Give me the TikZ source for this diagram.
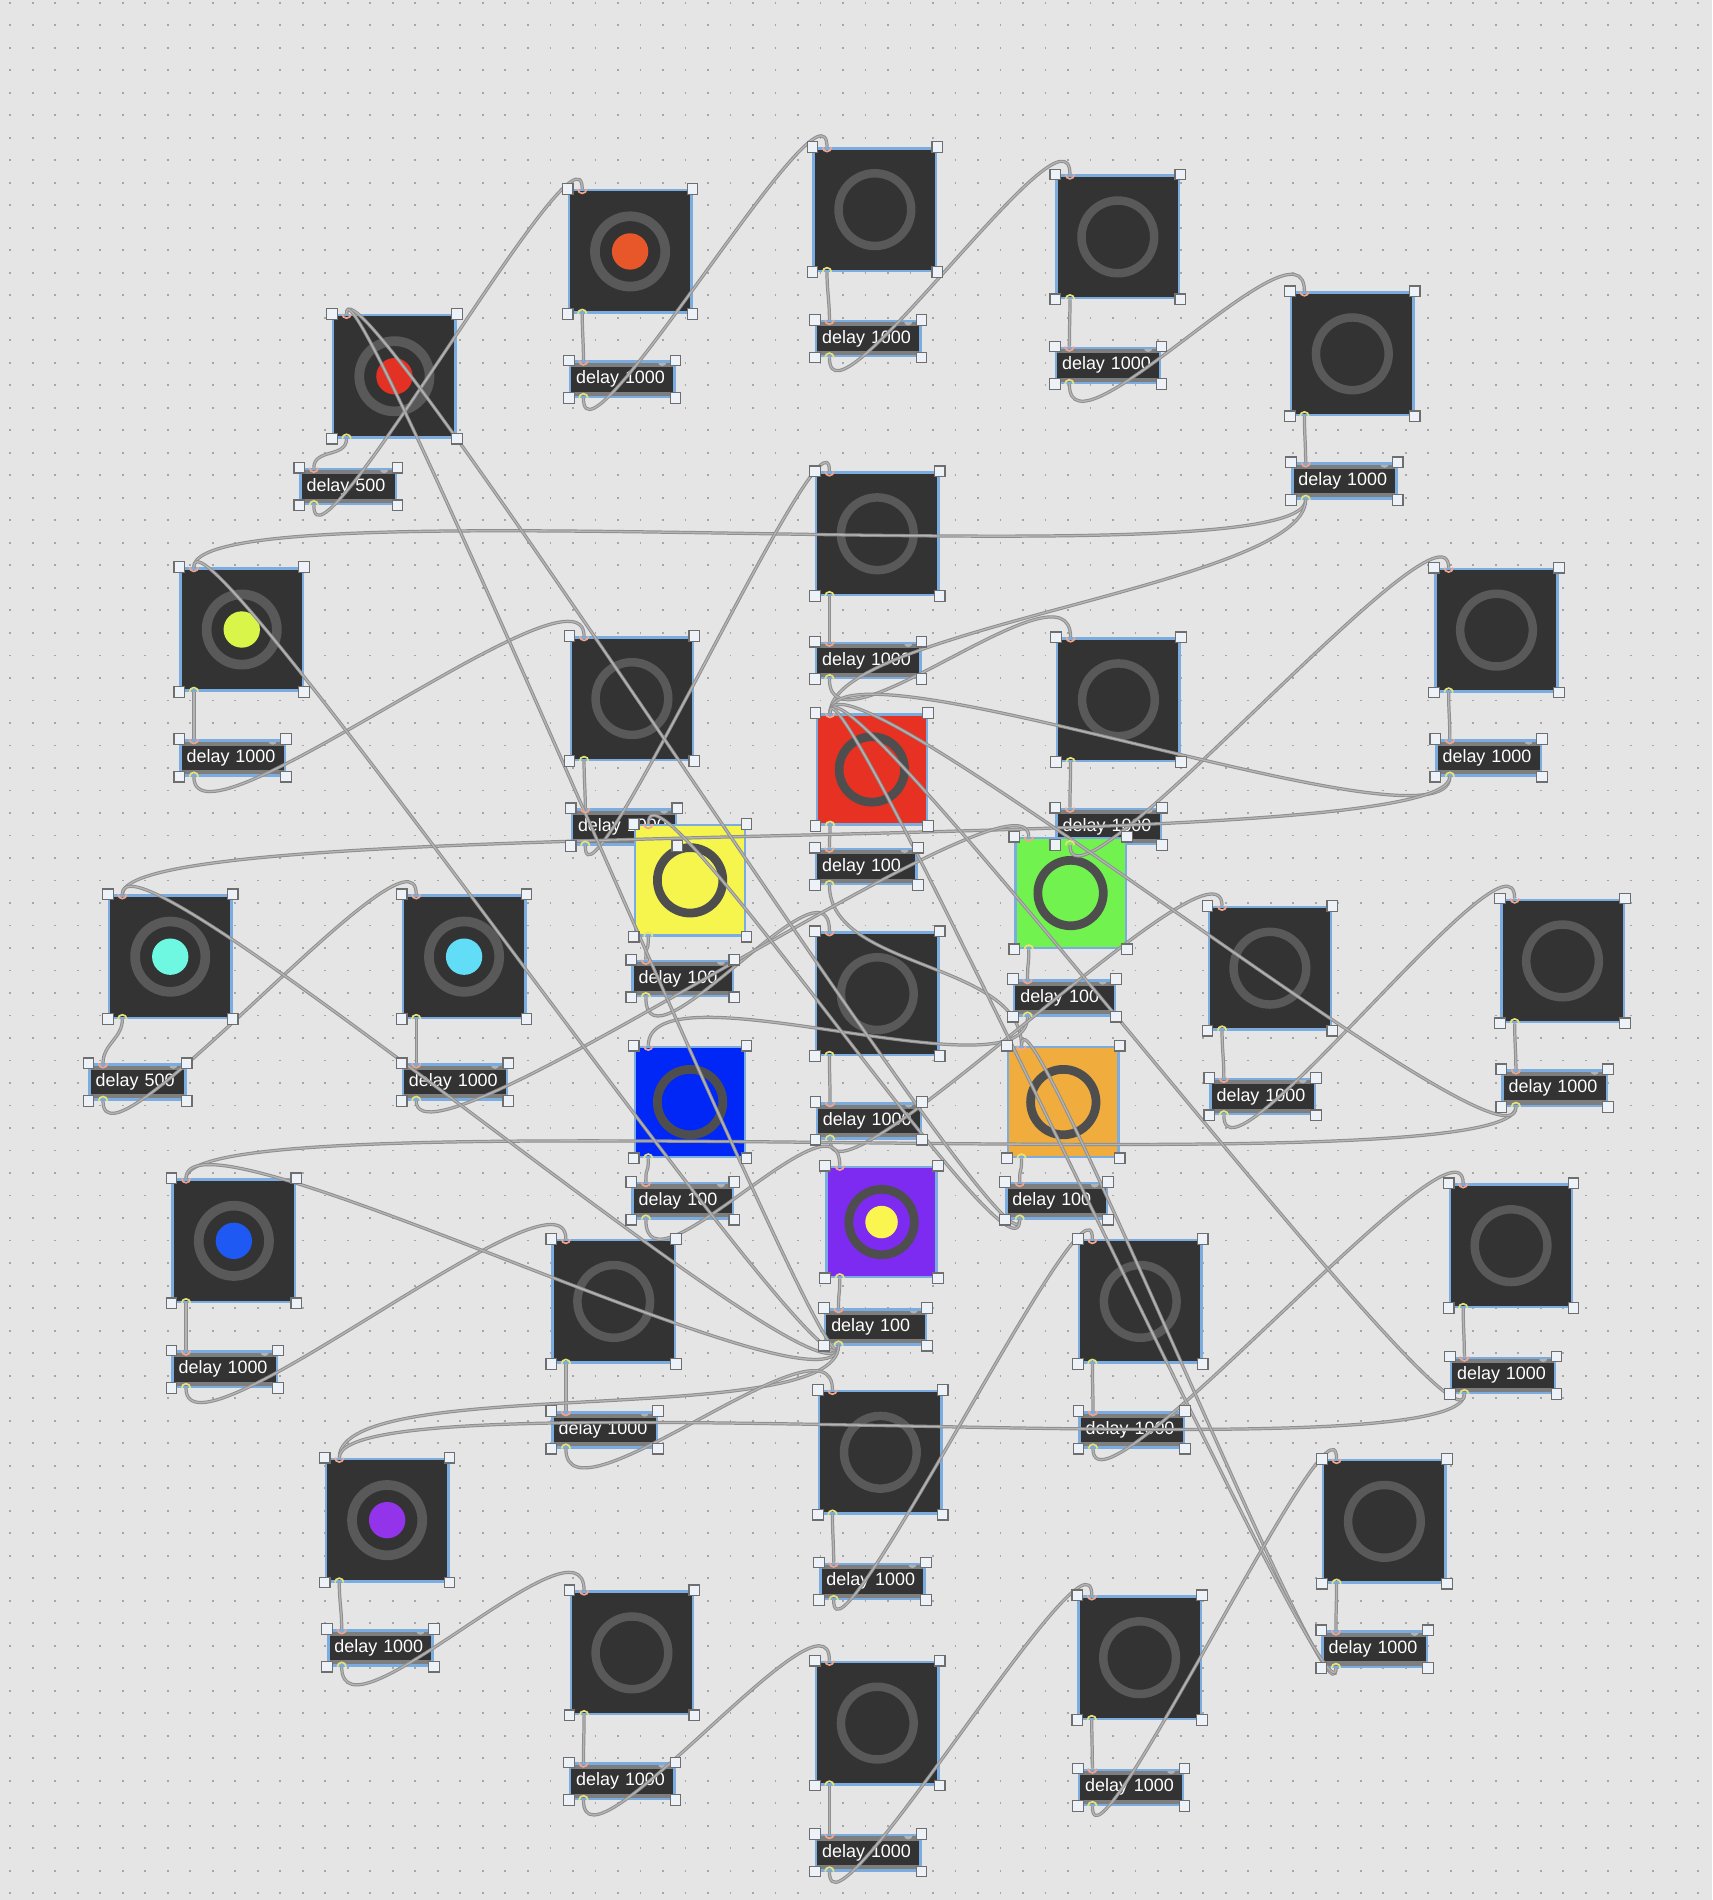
\documentclass[tikz,border=0pt]{standalone}
\usepackage{fontspec}
\newfontfamily\maxfont{Liberation Sans}

\definecolor{bggray}{HTML}{E5E5E5}
\definecolor{dotgray}{HTML}{A6A6A6}
\definecolor{maxdark}{HTML}{333333}
\definecolor{maxblue}{HTML}{7BACDF}
\definecolor{ringgray}{HTML}{595959}
\definecolor{darkring}{HTML}{4E4E4E}
\definecolor{stripgray}{HTML}{7E7E7E}
\definecolor{handlefill}{HTML}{EDF2F9}
\definecolor{handleedge}{HTML}{6E6E6E}
\definecolor{inletc}{HTML}{F0A58C}
\definecolor{outletc}{HTML}{E6E27A}
\definecolor{cordedge}{HTML}{8E8E8E}
\definecolor{cordmid}{HTML}{B4B4B4}
\definecolor{dotorange}{HTML}{E8572A}
\definecolor{dotred}{HTML}{E33123}
\definecolor{dotlime}{HTML}{DAF54A}
\definecolor{dotaqua}{HTML}{6EF7E1}
\definecolor{dotcyan}{HTML}{62DDF7}
\definecolor{dotblue}{HTML}{1D59F2}
\definecolor{dotpurple}{HTML}{9333EA}
\definecolor{boxred}{HTML}{E63123}
\definecolor{boxyellow}{HTML}{F5F54E}
\definecolor{boxgreen}{HTML}{72F24F}
\definecolor{boxblue}{HTML}{0027F5}
\definecolor{boxorange}{HTML}{F0AC3C}
\definecolor{boxpurple}{HTML}{7D2BF0}
\definecolor{purpledot}{HTML}{FAF54F}

\begin{document}
\begin{tikzpicture}[
    x=0.5pt, y=-0.5pt,
    bang/.style={rectangle, draw=maxblue, line width=1pt, fill=maxdark,
        minimum size=50.5pt, inner sep=0pt,
        path picture={\draw[ringgray, line width=3.5pt]
            (path picture bounding box.center) circle (15pt);}},
    dotbang/.style={bang,
        path picture={\draw[ringgray, line width=4pt]
            (path picture bounding box.center) circle (14.5pt);
            \fill[#1] (path picture bounding box.center) circle (7.5pt);}},
    colbang/.style={rectangle, draw=maxblue, line width=1pt, fill=#1,
        minimum size=45.5pt, inner sep=0pt,
        path picture={\draw[darkring, line width=3.6pt]
            (path picture bounding box.center) circle (13.5pt);}},
    purplebang/.style={colbang=boxpurple,
        path picture={\draw[darkring, line width=3.6pt]
            (path picture bounding box.center) circle (13.5pt);
            \fill[purpledot] (path picture bounding box.center) circle (6.7pt);}},
    delaybox/.style={rectangle, draw=maxblue, line width=1pt, fill=maxdark,
        text=white, font=\maxfont\fontsize{7.4}{8}\selectfont,
        minimum height=14.5pt, inner sep=0pt, inner xsep=2.5pt,
        text width=#1, align=left,
        path picture={
            \fill[stripgray] (path picture bounding box.north west)
                rectangle ([yshift=-2.2pt]path picture bounding box.north east);
            \fill[stripgray] (path picture bounding box.south west)
                rectangle ([yshift=2.2pt]path picture bounding box.south east);
            \fill[gray!60] ([xshift=-5pt]path picture bounding box.north east) circle (1.8pt);}},
    delaybox/.default=38pt,
    cord/.style={draw=cordedge, line width=0.4pt, double=cordmid, double distance=0.55pt},
    handle/.style={fill=handlefill, draw=handleedge, line width=0.5pt},
    inlet/.style={draw=inletc, line width=0.7pt},
    outlet/.style={draw=outletc, line width=0.7pt},
    griddots/.style={dotgray, line width=0.8pt, dash pattern=on 0.8pt off 8.485pt}
]
    % canvas
    \fill[bggray] (0,0) rectangle (1413,1568);
    \useasboundingbox (0,0) rectangle (1413,1568);
    \foreach \j in {0,...,84}
        \draw[griddots] (7.8,{2.4+18.57*\j}) -- (1413,{2.4+18.57*\j});

    % buttons and delays
    \node[dotbang=dotorange] (b1) at (520,207.5) {};
    \node[delaybox] (d1) at (513.5,313) {delay 1000};
    \node[dotbang=dotred] (b2) at (325.5,310.5) {};
    \node[delaybox=34.5pt] (d2) at (287.5,401.5) {delay 500};
    \node[bang] (b3) at (722,173) {};
    \node[delaybox] (d3) at (716.5,279.5) {delay 1000};
    \node[bang] (b4) at (922.5,195.5) {};
    \node[delaybox] (d4) at (914.5,301.5) {delay 1000};
    \node[bang] (b5) at (1116,292) {};
    \node[delaybox] (d5) at (1109.5,397) {delay 1000};
    \node[bang] (b6) at (724,440.5) {};
    \node[delaybox] (d6) at (716.5,545) {delay 1000};
    \node[dotbang=dotlime] (b7) at (199.5,519.5) {};
    \node[delaybox] (d7) at (192,625.5) {delay 1000};
    \node[bang] (b8) at (521.5,576.5) {};
    \node[delaybox] (d8) at (515,682.5) {delay 1000};
    \node[bang] (b9) at (923,577.5) {};
    \node[delaybox] (d9) at (915,682) {delay 1000};
    \node[bang] (b10) at (1235,520) {};
    \node[delaybox] (d10) at (1228.5,625.5) {delay 1000};
    \node[colbang=boxred] (b11) at (719.5,635) {};
    \node[delaybox=36.5pt] (d11) at (715,715) {delay 100};
    \node[colbang=boxyellow] (b12) at (569.5,726.5) {};
    \node[delaybox=36.5pt] (d12) at (563.5,807.5) {delay 100};
    \node[colbang=boxgreen] (b13) at (883.5,737) {};
    \node[delaybox=36.5pt] (d13) at (878.5,823.5) {delay 100};
    \node[dotbang=dotaqua] (b14) at (140.5,789.5) {};
    \node[delaybox=34.5pt] (d14) at (113.5,893) {delay 500};
    \node[dotbang=dotcyan] (b15) at (383,789.5) {};
    \node[delaybox] (d15) at (375.5,893) {delay 1000};
    \node[bang] (b16) at (724,820) {};
    \node[delaybox] (d16) at (717,925) {delay 1000};
    \node[bang] (b17) at (1048,799) {};
    \node[delaybox] (d17) at (1042,905) {delay 1000};
    \node[bang] (b18) at (1289.5,793) {};
    \node[delaybox] (d18) at (1283,898) {delay 1000};
    \node[colbang=boxblue] (b19) at (569.5,909.5) {};
    \node[delaybox=36.5pt] (d19) at (563.5,991) {delay 100};
    \node[colbang=boxorange] (b20) at (877.5,909.5) {};
    \node[delaybox=36.5pt] (d20) at (872,991) {delay 100};
    \node[dotbang=dotblue] (b21) at (193,1024) {};
    \node[delaybox] (d21) at (185.5,1130) {delay 1000};
    \node[purplebang] (b22) at (727.5,1008.5) {};
    \node[delaybox=36.5pt] (d22) at (722.5,1095) {delay 100};
    \node[bang] (b23) at (506.5,1074) {};
    \node[delaybox] (d23) at (499,1180) {delay 1000};
    \node[bang] (b24) at (941,1074) {};
    \node[delaybox] (d24) at (934,1180) {delay 1000};
    \node[bang] (b25) at (1247,1028) {};
    \node[delaybox] (d25) at (1240.5,1135) {delay 1000};
    \node[bang] (b26) at (726.5,1198.5) {};
    \node[delaybox] (d26) at (720,1305) {delay 1000};
    \node[dotbang=dotpurple] (b27) at (319.5,1254.5) {};
    \node[delaybox] (d27) at (314,1360) {delay 1000};
    \node[bang] (b28) at (1142.5,1255.5) {};
    \node[delaybox] (d28) at (1134.5,1361) {delay 1000};
    \node[bang] (b29) at (521.5,1364) {};
    \node[delaybox] (d29) at (513.5,1470) {delay 1000};
    \node[bang] (b30) at (940.5,1368) {};
    \node[delaybox] (d30) at (933.5,1475) {delay 1000};
    \node[bang] (b31) at (724,1422) {};
    \node[delaybox] (d31) at (716.5,1529) {delay 1000};

    % button -> its delay
    \foreach \i in {1,...,31}
        \draw[cord] ([xshift=6pt]b\i.south west) .. controls +(0,-8pt) and +(0,8pt) .. ([xshift=6pt]d\i.north west);

    % delay -> next buttons
    \foreach \a/\b in {d1/b3, d2/b1, d3/b4, d4/b5, d5/b7, d5/b11, d6/b9, d7/b8,
            d8/b6, d9/b10, d10/b11, d10/b14, d11/b20, d12/b16, d13/b19, d14/b15,
            d15/b13, d16/b17, d17/b18, d18/b21, d18/b11, d19/b22, d20/b2, d20/b12,
            d21/b23, d22/b2, d22/b7, d22/b14, d22/b21, d22/b27, d23/b26, d24/b25,
            d25/b27, d25/b11, d26/b24, d27/b29, d28/b20, d28/b11, d29/b31,
            d30/b28, d31/b30}
        \draw[cord] ([xshift=6pt]\a.south west) .. controls +(0,-35pt) and +(0,35pt) .. ([xshift=6pt]\b.north west);

    % handles, inlets and outlets
    \foreach \i in {1,...,31} {
        \foreach \n in {b\i,d\i} {
            \draw[inlet] ([xshift=4.2pt]\n.north west) arc (180:360:1.8pt);
            \draw[outlet] ([xshift=4.2pt]\n.south west) arc (180:0:1.8pt);
            \foreach \c in {north west, north east, south west, south east}
                \draw[handle] (\n.\c) ++(-2.2pt,-2.2pt) rectangle ++(4.4pt,4.4pt);
        }
    }
\end{tikzpicture}
\end{document}
